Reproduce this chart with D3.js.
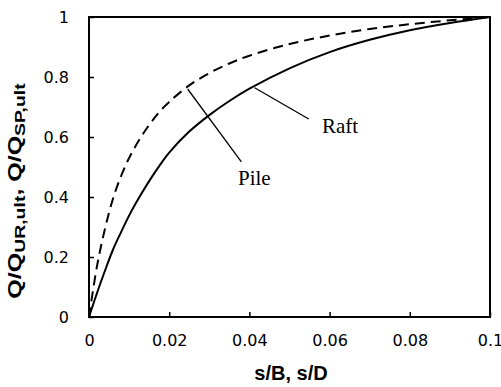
<!DOCTYPE html>
<html>
<head>
<meta charset="utf-8">
<script src="https://cdn.jsdelivr.net/npm/d3@7"></script>
<style>
  body { margin: 0; background: #fff; }
  svg { display: block; }
</style>
</head>
<body>
<svg width="501" height="387"></svg>
<script>
// values
var sRatio = [0, 0.002, 0.004, 0.006, 0.008, 0.01, 0.0125, 0.015, 0.0175, 0.02,
  0.025, 0.03, 0.035, 0.04, 0.05, 0.06, 0.07, 0.08, 0.09, 0.1];
var pileQ = [0, 0.17, 0.295, 0.395, 0.47, 0.53, 0.59, 0.64, 0.683, 0.717,
  0.772, 0.813, 0.845, 0.871, 0.91, 0.938, 0.96, 0.976, 0.989, 1];
var raftQ = [0, 0.08, 0.155, 0.225, 0.283, 0.338, 0.398, 0.453, 0.503, 0.548,
  0.618, 0.673, 0.72, 0.761, 0.829, 0.883, 0.924, 0.956, 0.98, 1];
var xTicks = [0, 0.02, 0.04, 0.06, 0.08, 0.1];
var yTicks = [0, 0.2, 0.4, 0.6, 0.8, 1];

var svg = d3.select('svg');
var m = { left: 89, right: 490, top: 17, bottom: 317 };

var x = d3.scaleLinear().domain([0, 0.1]).range([m.left, m.right]);
var y = d3.scaleLinear().domain([0, 1]).range([m.bottom, m.top]);

var tickFont = '"DejaVu Sans", sans-serif';
var titleFont = '"Liberation Sans", Arial, sans-serif';

// axes, ticks inside
var xAxis = svg.append('g')
  .attr('transform', 'translate(0,' + m.bottom + ')')
  .call(d3.axisBottom(x).tickValues(xTicks).tickSizeInner(-5).tickSizeOuter(0)
    .tickPadding(18).tickFormat(function(d) { return String(+d.toFixed(2)); }));
var yAxis = svg.append('g')
  .attr('transform', 'translate(' + m.left + ',0)')
  .call(d3.axisLeft(y).tickValues(yTicks).tickSizeInner(-5).tickSizeOuter(0)
    .tickPadding(20).tickFormat(function(d) { return String(+d.toFixed(1)); }));

[xAxis, yAxis].forEach(function(g) {
  g.select('.domain').remove();
  g.selectAll('line').attr('stroke', '#000').attr('stroke-width', 1.5);
  g.selectAll('text').attr('font-family', tickFont).attr('font-size', 16).attr('fill', '#000');
});

// plot frame
svg.append('rect')
  .attr('x', m.left).attr('y', m.top)
  .attr('width', m.right - m.left).attr('height', m.bottom - m.top)
  .attr('fill', 'none').attr('stroke', '#000').attr('stroke-width', 2);

var line = d3.line()
  .curve(d3.curveCatmullRom.alpha(0.5))
  .x(function(d) { return x(d[0]); })
  .y(function(d) { return y(d[1]); });

svg.append('path')
  .datum(d3.zip(sRatio, pileQ))
  .attr('d', line)
  .attr('fill', 'none').attr('stroke', '#000').attr('stroke-width', 2)
  .attr('stroke-dasharray', '10,6');

svg.append('path')
  .datum(d3.zip(sRatio, raftQ))
  .attr('d', line)
  .attr('fill', 'none').attr('stroke', '#000').attr('stroke-width', 2);

// labels with leader lines
var notes = [
  { text: 'Pile', from: [0.0246, 0.76], to: [0.038, 0.517], tx: 238, ty: 185 },
  { text: 'Raft', from: [0.0413, 0.764], to: [0.0548, 0.66], tx: 322, ty: 133 }
];
notes.forEach(function(n) {
  svg.append('line')
    .attr('x1', x(n.from[0])).attr('y1', y(n.from[1]))
    .attr('x2', x(n.to[0])).attr('y2', y(n.to[1]))
    .attr('stroke', '#000').attr('stroke-width', 1.3);
  svg.append('text')
    .attr('x', n.tx).attr('y', n.ty)
    .attr('font-family', '"Liberation Serif", serif')
    .attr('font-size', 21)
    .text(n.text);
});

// axis titles
svg.append('text')
  .attr('x', 291).attr('y', 380)
  .attr('text-anchor', 'middle')
  .attr('font-family', titleFont)
  .attr('font-weight', 'bold').attr('font-size', 20)
  .text('s/B, s/D');

var yt = svg.append('text')
  .attr('text-anchor', 'middle')
  .attr('font-family', titleFont)
  .attr('font-weight', 'bold').attr('font-size', 18);
yt.append('tspan').text('Q/Q');
yt.append('tspan').attr('font-size', 14).attr('dy', 4).text('UR,ult');
yt.append('tspan').attr('dy', -4).text(', Q/Q');
yt.append('tspan').attr('font-size', 14).attr('dy', 4).text('SP,ult');
// the reference title is drawn stretched along its length
var ytLen = yt.node().getBBox().width;
yt.attr('transform', 'translate(21,191) rotate(-90) scale(' + (216 / ytLen) + ',1)');
</script>
</body>
</html>
